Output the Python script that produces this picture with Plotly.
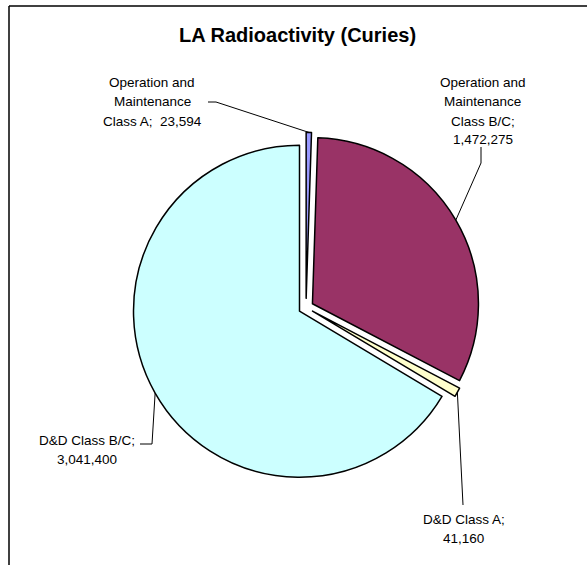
import math
import plotly.graph_objects as go

# ---- data ----
labels = ["Operation and Maintenance Class A", "Operation and Maintenance Class B/C",
          "D&D Class A", "D&D Class B/C"]
values = [23594, 1472275, 41160, 3041400]
label_lines = [["Operation and", "Maintenance", "Class A"],
               ["Operation and", "Maintenance", "Class B/C"],
               ["D&D Class A"],
               ["D&D Class B/C"]]
value_on_new_line = [False, True, True, True]
colors = ["#9999FF", "#993366", "#FFFFCC", "#CCFFFF"]
pulls = [0.055, 0.045, 0.045, 0.045]
title = "LA Radioactivity (Curies)"

# ---- layout geometry (pixels) ----
W, H = 587, 565
CX, CY, R = 306.0, 307.5, 166.0
maxpull = max(pulls)
half = R * (1 + maxpull)
dom_x = [(CX - half) / W, (CX + half) / W]
y0 = 1 - (CY + half) / H
dom_y = [y0, y0 + 2 * half / H]

def px(x):
    return x / W

def py(y):
    return 1 - y / H

FONT = "Arial, Liberation Sans, sans-serif"

fig = go.Figure(go.Pie(
    values=values, labels=labels, sort=False, direction="clockwise", rotation=0,
    pull=pulls, textinfo="none", hoverinfo="label+value",
    marker=dict(colors=colors, line=dict(color="black", width=1.5)),
    domain=dict(x=dom_x, y=dom_y), showlegend=False,
))

# label centres (x, first-line y) and leader elbow points
label_pos = [(152, 83), (482.5, 83), (464, 519), (87, 440)]
elbows = [[(208, 102), (216, 102)],
          [(481, 147), (481, 163)],
          [(463, 505)],
          [(140, 444), (152, 444)]]

total = sum(values)
annotations = []
shapes = []
cum = 0.0
LINE_H = 19
for i, v in enumerate(values):
    mid = (cum + v / 2) / total * 2 * math.pi
    cum += v
    rr = R * (1 + pulls[i])
    ex = CX + rr * math.sin(mid)
    ey = CY - rr * math.cos(mid)
    lines = list(label_lines[i])
    vs = f"{v:,}"
    if value_on_new_line[i]:
        lines[-1] = lines[-1] + ";"
        lines.append(vs)
    else:
        lines[-1] = lines[-1] + ";  " + vs
    lx, ly = label_pos[i]
    for k, t in enumerate(lines):
        annotations.append(dict(
            x=px(lx), y=py(ly + k * LINE_H), xref="paper", yref="paper",
            text=t, showarrow=False, xanchor="center", yanchor="middle",
            font=dict(family=FONT, size=13.5, color="black")))
    pts = elbows[i] + [(ex, ey)]
    path = "M " + " L ".join(f"{px(a)},{py(b)}" for a, b in pts)
    shapes.append(dict(type="path", xref="paper", yref="paper", path=path,
                       line=dict(color="black", width=1)))

# chart frame (cropped on right and bottom): top and left edges only
shapes.append(dict(type="line", xref="paper", yref="paper",
                   x0=px(9), x1=1.0, y0=py(6), y1=py(6),
                   line=dict(color="black", width=1.5)))
shapes.append(dict(type="line", xref="paper", yref="paper",
                   x0=px(9), x1=px(9), y0=py(6), y1=0.0,
                   line=dict(color="black", width=1.5)))

annotations.append(dict(
    x=px(298), y=py(35), xref="paper", yref="paper", text=f"<b>{title}</b>",
    showarrow=False, xanchor="center", yanchor="middle",
    font=dict(family=FONT, size=20, color="black")))

fig.update_layout(
    width=W, height=H, margin=dict(l=0, r=0, t=0, b=0),
    paper_bgcolor="white", plot_bgcolor="white",
    annotations=annotations, shapes=shapes,
)

fig.write_html("out.html")
